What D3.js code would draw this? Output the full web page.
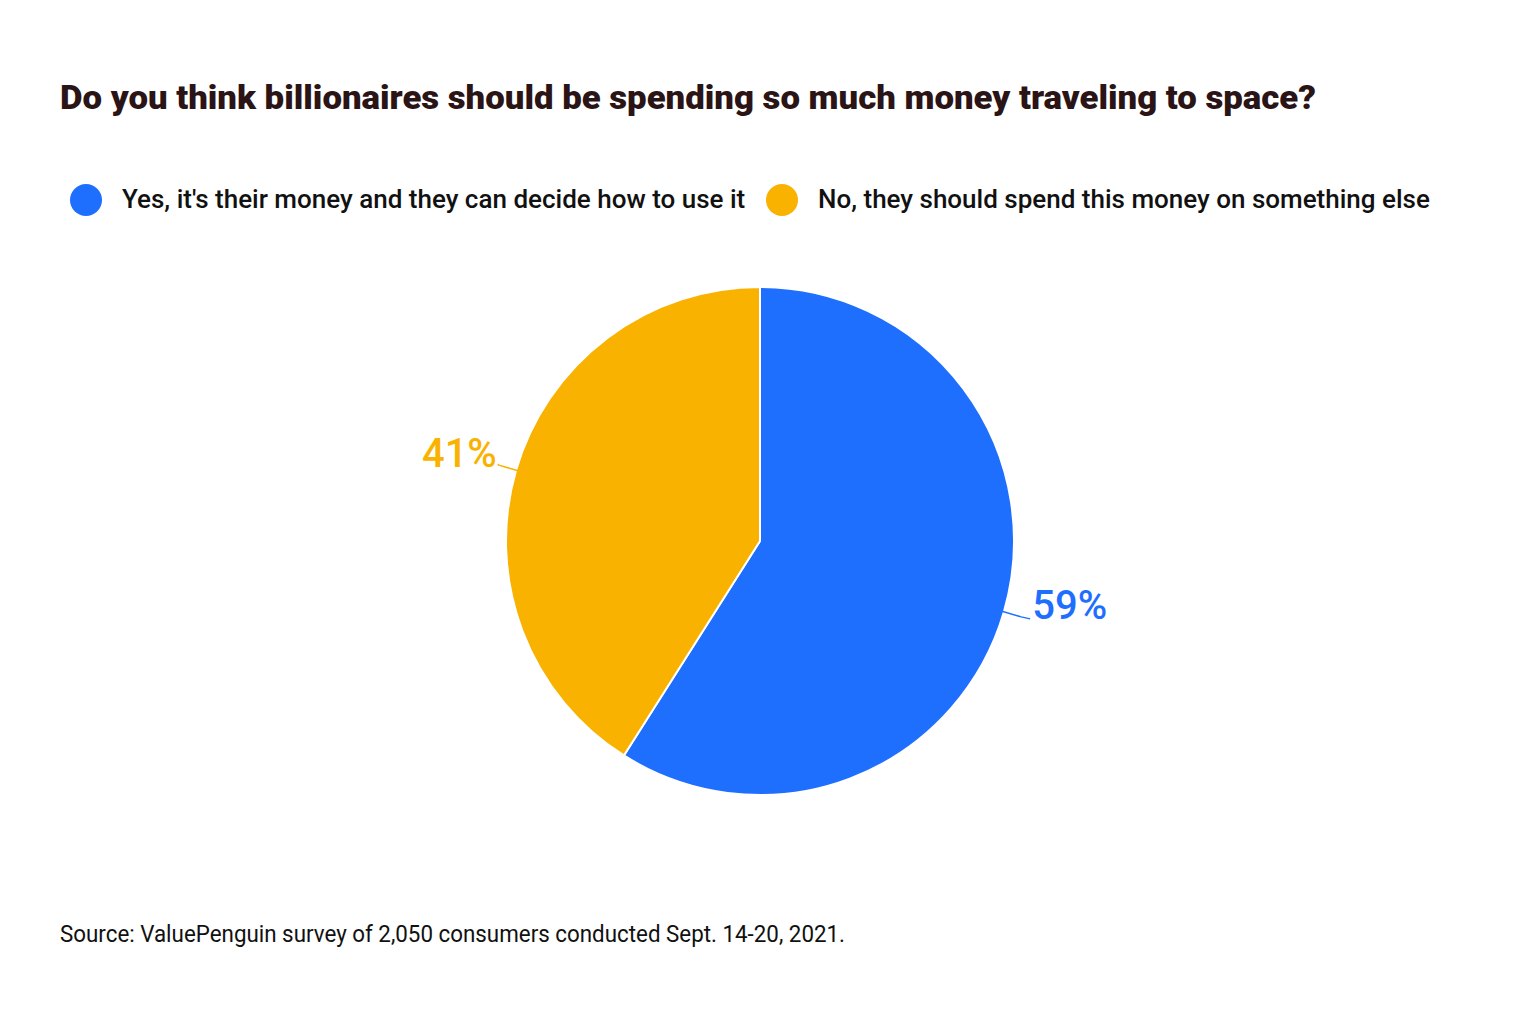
<!DOCTYPE html>
<html>
<head>
<meta charset="utf-8">
<script src="https://cdn.jsdelivr.net/npm/d3@7"></script>
<style>
  html, body { margin: 0; padding: 0; background: #ffffff; }
  svg { display: block; }
</style>
</head>
<body>
<svg id="chart" width="1520" height="1010"></svg>
<script>
const categories = [
  "Yes, it's their money and they can decide how to use it",
  "No, they should spend this money on something else"
];
const values = [59, 41];
const valueLabels = ["59%", "41%"];
const colors = ["#1F6FFF", "#F9B200"];
const title = "Do you think billionaires should be spending so much money traveling to space?";
const source = "Source: ValuePenguin survey of 2,050 consumers conducted Sept. 14-20, 2021.";

const svg = d3.select("#chart");
const W = 1520, H = 1010;
svg.append("rect").attr("width", W).attr("height", H).attr("fill", "#fff");

function fit(sel, target) {
  const w = sel.node().getComputedTextLength();
  if (Math.abs(w - target) > 2) sel.attr("textLength", target).attr("lengthAdjust", "spacingAndGlyphs");
}

// Title
const t = svg.append("text")
  .attr("x", 60).attr("y", 109)
  .attr("font-family", "Roboto, 'Noto Sans', sans-serif")
  .attr("font-weight", 900)
  .attr("font-size", 34)
  .attr("fill", "#2A1416")
  .text(title);
fit(t, 1256);

// Legend
const legendItems = [
  { cx: 86, tx: 122, w: 623 },
  { cx: 782, tx: 818, w: 612 }
];
const lg = svg.append("g");
categories.forEach((c, i) => {
  lg.append("circle").attr("cx", legendItems[i].cx).attr("cy", 200).attr("r", 16).attr("fill", colors[i]);
  const lt = lg.append("text")
    .attr("x", legendItems[i].tx).attr("y", 208)
    .attr("font-family", "Roboto, sans-serif")
    .attr("font-size", 26)
    .attr("font-weight", 500)
    .attr("fill", "#111")
    .text(c);
  fit(lt, legendItems[i].w);
});

// Pie
const cx = 760, cy = 541, R = 254;
const pie = d3.pie().sort(null).value(d => d)(values);
const arc = d3.arc().innerRadius(0).outerRadius(R);
const g = svg.append("g").attr("transform", `translate(${cx},${cy})`);
g.selectAll("path.slice").data(pie).join("path")
  .attr("class", "slice")
  .attr("d", arc)
  .attr("fill", (d, i) => colors[i])
  .attr("stroke", "#fff")
  .attr("stroke-width", 2)
  .attr("stroke-linejoin", "round");

// Labels with leader lines
pie.forEach((d, i) => {
  const a = (d.startAngle + d.endAngle) / 2;
  const sx = Math.sin(a), sy = -Math.cos(a);
  const p0 = [sx * (R - 2), sy * (R - 2)];
  const p1 = [sx * (R + 18), sy * (R + 18)];
  const right = sx > 0;
  const p2 = [p1[0] + (right ? 9 : -1), p1[1] + (right ? 2 : -1)];
  g.append("polyline")
    .attr("points", [p0, p1, p2].map(p => p.join(",")).join(" "))
    .attr("fill", "none")
    .attr("stroke", colors[i])
    .attr("stroke-width", 1.5);
  g.append("text")
    .attr("x", p2[0] + (right ? 2 : -1))
    .attr("y", p2[1] + (right ? 0 : 3))
    .attr("text-anchor", right ? "start" : "end")
    .attr("font-family", "Roboto, sans-serif")
    .attr("font-size", 40)
    .attr("font-weight", 500)
    .attr("fill", colors[i])
    .text(valueLabels[i]);
});

// Source
const s = svg.append("text")
  .attr("x", 60).attr("y", 942)
  .attr("font-family", "Roboto, sans-serif")
  .attr("font-size", 23)
  .attr("fill", "#111")
  .text(source);
fit(s, 785);
</script>
</body>
</html>
